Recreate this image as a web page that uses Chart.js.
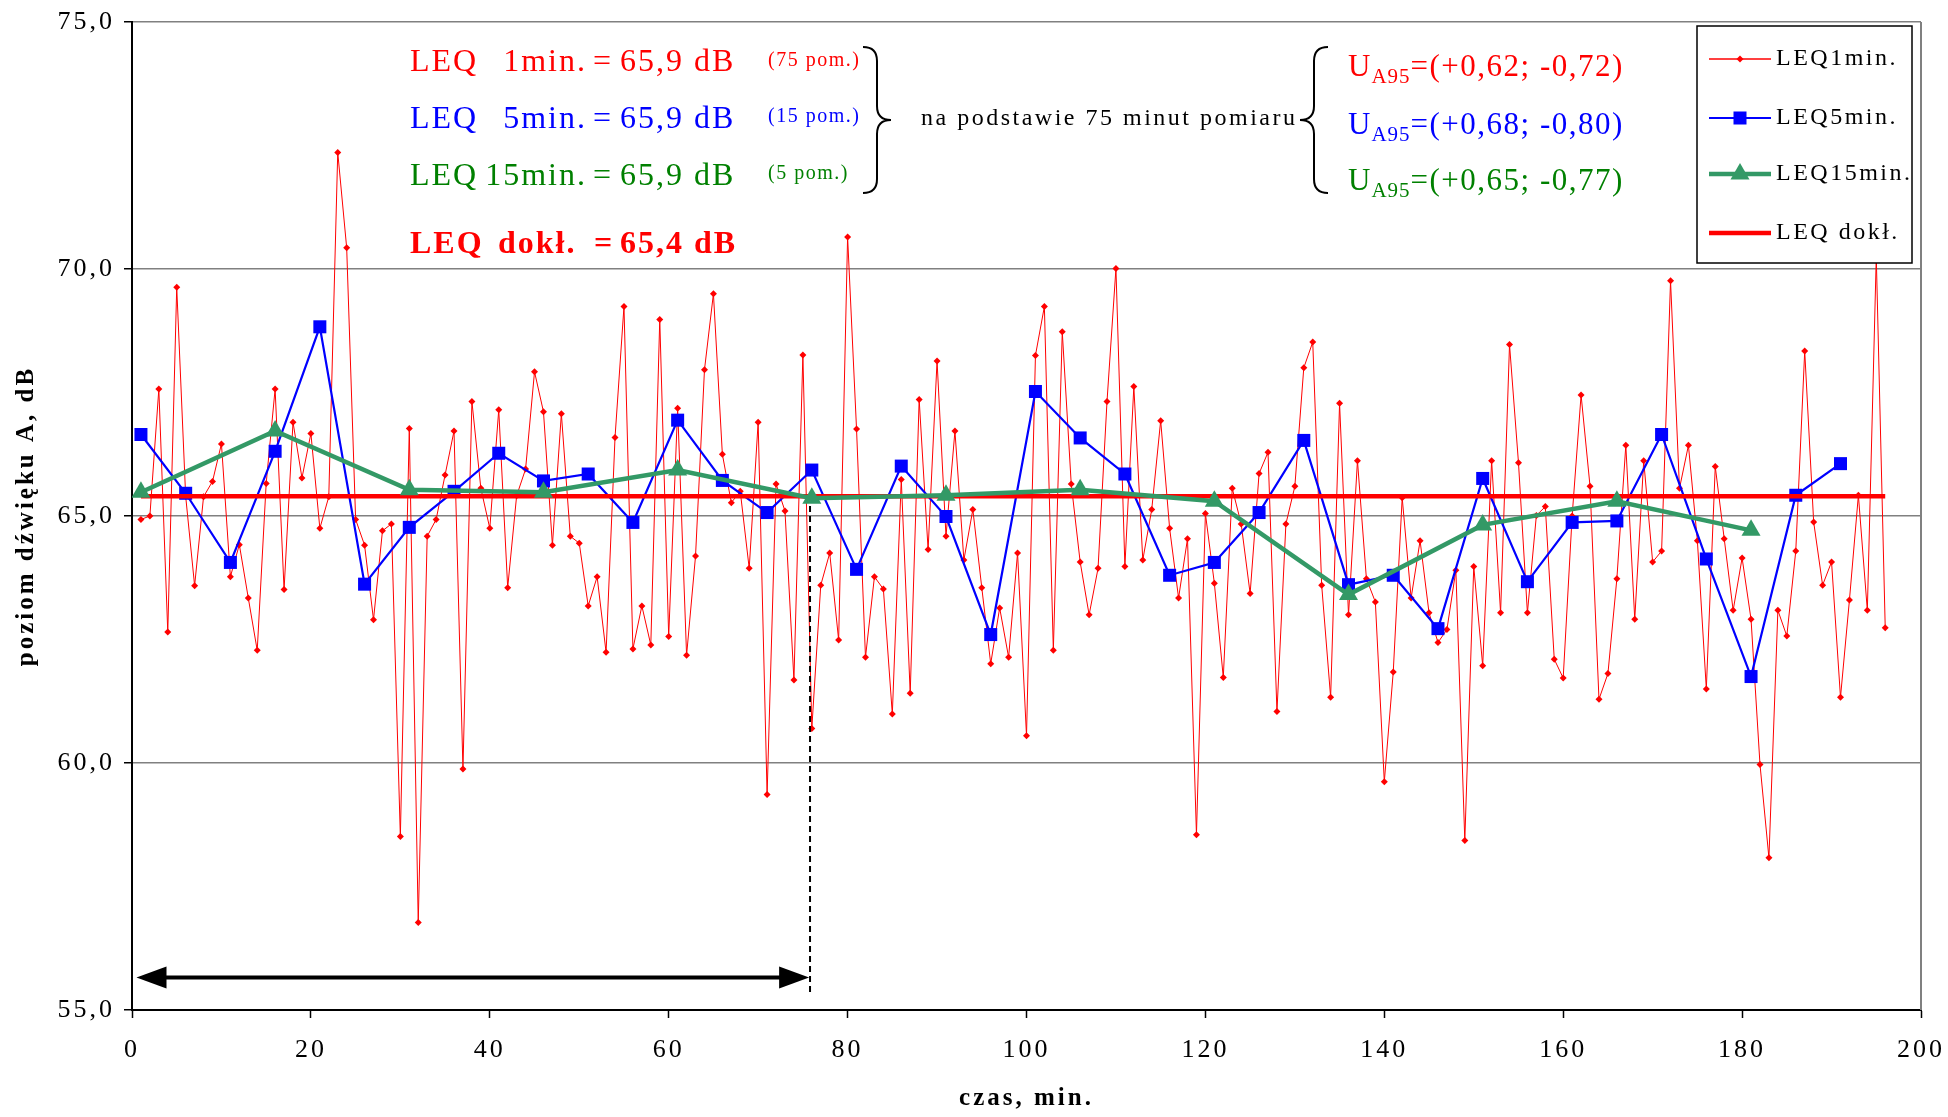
<!DOCTYPE html>
<html>
<head>
<meta charset="utf-8">
<script src="https://cdn.jsdelivr.net/npm/chart.js@4/dist/chart.umd.min.js"></script>
<style>
html, body { margin: 0; padding: 0; background: #fff; }
</style>
</head>
<body>
<canvas id="myChart" width="1948" height="1117"></canvas>
<script>
// LEQ 1 min. - one reading per minute, from minute 1
const leq1min = [
  64.93, 65.0, 67.57, 62.65, 69.63, 65.4, 63.59, 65.39, 65.70, 66.46,
  63.77, 64.42, 63.34, 62.28, 65.66, 67.57, 63.51, 66.90, 65.77, 66.67,
  64.75, 65.39, 72.36, 70.43, 64.93, 64.41, 62.90, 64.70, 64.84, 58.51,
  66.77, 56.77, 64.59, 64.93, 65.83, 66.72, 59.88, 67.32, 65.56, 64.75,
  67.15, 63.55, 65.41, 65.95, 67.92, 67.11, 64.41, 67.07, 64.59, 64.45,
  63.18, 63.77, 62.24, 66.59, 69.24, 62.31, 63.18, 62.39, 68.98, 62.56,
  67.18, 62.18, 64.19, 67.96, 69.50, 66.25, 65.27, 65.50, 63.94, 66.90,
  59.36, 65.65, 65.10, 61.68, 68.26, 60.70, 63.60, 64.25, 62.49, 70.65,
  66.76, 62.14, 63.77, 63.52, 60.99, 65.74, 61.41, 67.36, 64.32, 68.14,
  64.59, 66.72, 64.11, 65.13, 63.55, 62.01, 63.14, 62.14, 64.25, 60.55,
  68.25, 69.24, 62.28, 68.73, 65.65, 64.07, 63.00, 63.94, 67.32, 70.01,
  63.98, 67.62, 64.11, 65.13, 66.93, 64.75, 63.34, 64.54, 58.55, 65.05,
  63.64, 61.73, 65.56, 64.84, 63.43, 65.86, 66.29, 61.04, 64.84, 65.60,
  68.00, 68.52, 63.60, 61.33, 67.28, 63.00, 66.12, 63.73, 63.26, 59.62,
  61.84, 65.37, 63.34, 64.50, 63.04, 62.44, 62.70, 63.90, 58.43, 63.98,
  61.97, 66.12, 63.04, 68.47, 66.08, 63.04, 65.01, 65.19, 62.10, 61.72,
  65.0, 67.45, 65.60, 61.29, 61.81, 63.73, 66.43, 62.91, 66.12, 64.07,
  64.29, 69.76, 65.56, 66.43, 64.50, 61.50, 66.00, 64.54, 63.09, 64.15,
  62.91, 59.97, 58.08, 63.09, 62.57, 64.29, 68.34, 64.88, 63.60, 64.07,
  61.33, 63.30, 65.42, 63.09, 70.25, 62.74
];
// LEQ 5 min. - minutes 1, 6, 11 ...
const leq5min = [
  66.65, 65.46, 64.06, 66.31, 68.83, 63.62, 64.77, 65.50, 66.27, 65.71,
  65.85, 64.87, 66.94, 65.72, 65.07, 65.93, 63.92, 66.01, 64.99, 62.60,
  67.52, 66.58, 65.85, 63.80, 64.06, 65.07, 66.53, 63.61, 63.80, 62.72,
  65.76, 63.67, 64.87, 64.90, 66.65, 64.13, 61.75, 65.42, 66.06
];
// LEQ 15 min. - minutes 1, 16, 31 ...
const leq15min = [
  65.48, 66.72, 65.53, 65.48, 65.93, 65.36, 65.42, 65.53, 65.30, 63.41,
  64.82, 65.30, 64.71
];
const leqDokl = 65.4;
const doklRange = [1, 196];
const firstMinute = 1;
const step1 = 1, step5 = 5, step15 = 15;

const xTicks = [0, 20, 40, 60, 80, 100, 120, 140, 160, 180, 200];
const yTicks = [55, 60, 65, 70, 75];

// annotation texts
const leqNames = ['1min.', '5min.', '15min.'];
const leqResults = ['65,9', '65,9', '65,9'];
const pomCounts = [75, 15, 5];
const leqDoklText = '65,4';
const ua95 = [['+0,62', '-0,72'], ['+0,68', '-0,80'], ['+0,65', '-0,77']];
const basisText = 'na podstawie 75 minut pomiaru';

// marker: 75 minute measuring window
const windowEnd = 75.8;
const arrowFrom = 0.5, arrowTo = 75.7, arrowY = 55.66;
const dashTop = 65.2, dashBottom = 55.35;

const RED = '#FF0000', BLUE = '#0000FF', GREEN = '#339966', TXT_GREEN = '#008000';
const SERIF = '"Liberation Serif", "Times New Roman", serif';

function toPoints(values, step) {
    return values.map((v, i) => ({ x: firstMinute + i * step, y: v }));
}

const spacing = {
    id: 'spacing',
    beforeUpdate(chart) { chart.ctx.letterSpacing = '3px'; },
    beforeDraw(chart) { chart.ctx.letterSpacing = '3px'; }
};

function txt(ctx, s, x, y, size, color, opts) {
    opts = opts || {};
    ctx.font = (opts.bold ? 'bold ' : '') + size + 'px ' + SERIF;
    ctx.fillStyle = color;
    ctx.textAlign = opts.align || 'left';
    ctx.textBaseline = 'middle';
    ctx.letterSpacing = (opts.sp == null ? 2 : opts.sp) + 'px';
    ctx.fillText(s, x, y);
    return ctx.measureText(s).width;
}

// dir 1 = '}' , dir -1 = '{'
function brace(ctx, x, y1, y2, r, dir) {
    const ym = (y1 + y2) / 2;
    ctx.beginPath();
    ctx.moveTo(x - dir * r, y1);
    ctx.quadraticCurveTo(x, y1, x, y1 + r);
    ctx.lineTo(x, ym - r);
    ctx.quadraticCurveTo(x, ym, x + dir * r, ym);
    ctx.quadraticCurveTo(x, ym, x, ym + r);
    ctx.lineTo(x, y2 - r);
    ctx.quadraticCurveTo(x, y2, x - dir * r, y2);
    ctx.stroke();
}

const frame = {
    id: 'frame',
    beforeDatasetsDraw(chart) {
        const ctx = chart.ctx, a = chart.chartArea;
        ctx.save();
        ctx.strokeStyle = '#808080';
        ctx.lineWidth = 2;
        ctx.beginPath();
        ctx.moveTo(a.right, a.top);
        ctx.lineTo(a.right, a.bottom);
        ctx.stroke();
        ctx.restore();
    }
};

const notes = {
    id: 'notes',
    afterDatasetsDraw(chart) {
        const ctx = chart.ctx;
        const xs = chart.scales.x, ys = chart.scales.y;
        ctx.save();
        // dashed end of the 75 minute window
        ctx.strokeStyle = '#000';
        ctx.lineWidth = 2;
        ctx.setLineDash([6, 4]);
        const dx = xs.getPixelForValue(windowEnd);
        ctx.beginPath();
        ctx.moveTo(dx, ys.getPixelForValue(dashTop));
        ctx.lineTo(dx, ys.getPixelForValue(dashBottom));
        ctx.stroke();
        ctx.setLineDash([]);

        // double arrow
        const ax1 = xs.getPixelForValue(arrowFrom), ax2 = xs.getPixelForValue(arrowTo);
        const ay = ys.getPixelForValue(arrowY);
        const hl = 30, hw = 11;
        ctx.lineWidth = 4;
        ctx.beginPath();
        ctx.moveTo(ax1 + hl - 2, ay);
        ctx.lineTo(ax2 - hl + 2, ay);
        ctx.stroke();
        ctx.fillStyle = '#000';
        ctx.beginPath();
        ctx.moveTo(ax1, ay); ctx.lineTo(ax1 + hl, ay - hw); ctx.lineTo(ax1 + hl, ay + hw);
        ctx.closePath(); ctx.fill();
        ctx.beginPath();
        ctx.moveTo(ax2, ay); ctx.lineTo(ax2 - hl, ay - hw); ctx.lineTo(ax2 - hl, ay + hw);
        ctx.closePath(); ctx.fill();
        ctx.restore();
    },
    afterDraw(chart) {
        const ctx = chart.ctx;
        ctx.save();
        const colors = [RED, BLUE, TXT_GREEN];
        const rowsY = [63, 120, 177];
        const countY = [61, 117, 174];
        leqNames.forEach((n, i) => {
            txt(ctx, 'LEQ', 410, rowsY[i], 32, colors[i]);
            txt(ctx, n, 587, rowsY[i], 32, colors[i], { align: 'right' });
            txt(ctx, '=', 593, rowsY[i], 32, colors[i]);
            txt(ctx, leqResults[i] + ' dB', 620, rowsY[i], 32, colors[i]);
            txt(ctx, '(' + pomCounts[i] + ' pom.)', 768, countY[i], 20, colors[i], { sp: 1.5 });
        });
        txt(ctx, 'LEQ', 410, 245, 32, RED, { bold: true });
        txt(ctx, 'dokł.', 498, 245, 32, RED, { bold: true });
        txt(ctx, '=', 594, 245, 32, RED, { bold: true });
        txt(ctx, leqDoklText + ' dB', 620, 245, 32, RED, { bold: true });

        ctx.strokeStyle = '#000';
        ctx.lineWidth = 2;
        brace(ctx, 877, 47, 193, 14, 1);
        txt(ctx, basisText, 921, 119, 24, '#000', { sp: 2.5 });
        brace(ctx, 1314, 47, 193, 14, -1);

        const uy = [68, 126, 182];
        ua95.forEach((u, i) => {
            let x = 1348;
            x += txt(ctx, 'U', x, uy[i], 31, colors[i], { sp: 1 });
            x += txt(ctx, 'A95', x, uy[i] + 9, 21, colors[i], { sp: 1 });
            txt(ctx, '=(' + u[0] + '; ' + u[1] + ')', x, uy[i], 31, colors[i], { sp: 1.5 });
        });

        // legend box
        ctx.fillStyle = '#fff';
        ctx.fillRect(1697, 26, 215, 237);
        ctx.strokeStyle = '#000';
        ctx.lineWidth = 1.5;
        ctx.strokeRect(1697, 26, 215, 237);
        const legY = [59, 118, 174, 233];
        chart.data.datasets.forEach((d, i) => {
            const y = legY[i];
            ctx.strokeStyle = d.borderColor;
            ctx.lineWidth = Math.max(d.borderWidth, 1.5);
            ctx.beginPath();
            ctx.moveTo(1709, y);
            ctx.lineTo(1771, y);
            ctx.stroke();
            if (d.pointRadius > 0) {
                ctx.fillStyle = d.pointBackgroundColor;
                const r = d.pointRadius;
                ctx.beginPath();
                if (d.pointStyle === 'rect') {
                    const s = r * Math.SQRT1_2;
                    ctx.rect(1740 - s, y - s, 2 * s, 2 * s);
                } else if (d.pointStyle === 'triangle') {
                    ctx.moveTo(1740, y - r);
                    ctx.lineTo(1740 + r * 0.866, y + r * 0.5);
                    ctx.lineTo(1740 - r * 0.866, y + r * 0.5);
                } else {
                    ctx.moveTo(1740, y - r); ctx.lineTo(1740 + r, y);
                    ctx.lineTo(1740, y + r); ctx.lineTo(1740 - r, y);
                }
                ctx.closePath();
                ctx.fill();
            }
            txt(ctx, d.label, 1776, y, 24, '#000', { sp: 2.5 });
        });
        ctx.restore();
    }
};

new Chart('myChart', {
    type: 'line',
    data: {
        datasets: [
            {
                label: 'LEQ1min.',
                data: toPoints(leq1min, step1),
                borderColor: RED,
                borderWidth: 1,
                pointStyle: 'rectRot',
                pointRadius: 3.5,
                pointBackgroundColor: RED,
                pointBorderColor: RED,
                pointBorderWidth: 0,
                order: 4
            },
            {
                label: 'LEQ5min.',
                data: toPoints(leq5min, step5),
                borderColor: BLUE,
                borderWidth: 2.2,
                pointStyle: 'rect',
                pointRadius: 9.2,
                pointBackgroundColor: BLUE,
                pointBorderColor: BLUE,
                pointBorderWidth: 0,
                order: 3
            },
            {
                label: 'LEQ15min.',
                data: toPoints(leq15min, step15),
                borderColor: GREEN,
                borderWidth: 4.5,
                pointStyle: 'triangle',
                pointRadius: 11,
                pointBackgroundColor: GREEN,
                pointBorderColor: GREEN,
                pointBorderWidth: 0,
                order: 1
            },
            {
                label: 'LEQ dokł.',
                data: doklRange.map(m => ({ x: m, y: leqDokl })),
                borderColor: RED,
                borderWidth: 4.5,
                pointRadius: 0,
                order: 2
            }
        ]
    },
    options: {
        responsive: false,
        animation: false,
        events: [],
        layout: { padding: { top: 22, right: 27, left: 0, bottom: 0 } },
        plugins: { legend: { display: false }, tooltip: { enabled: false } },
        scales: {
            x: {
                type: 'linear',
                min: 0,
                max: 200,
                afterFit(scale) {
                    scale.height = 107;
                    scale.paddingLeft = 0;
                    scale.paddingRight = 0;
                },
                afterBuildTicks(scale) { scale.ticks = xTicks.map(v => ({ value: v })); },
                grid: { drawOnChartArea: false, drawTicks: true, tickLength: 8, tickColor: '#000', tickWidth: 1.5 },
                border: { display: true, color: '#000', width: 2 },
                ticks: { color: '#000', padding: 17, maxRotation: 0, font: { family: SERIF, size: 26 } },
                title: {
                    display: true, text: 'czas, min.', color: '#000',
                    padding: { top: 0, bottom: 3 },
                    font: { family: SERIF, size: 25, weight: 'bold' }
                }
            },
            y: {
                min: 55,
                max: 75,
                afterFit(scale) {
                    scale.width = 132;
                    scale.paddingTop = 0;
                    scale.paddingBottom = 0;
                },
                afterBuildTicks(scale) { scale.ticks = yTicks.map(v => ({ value: v })); },
                grid: { color: '#808080', lineWidth: 1.5, drawTicks: true, tickLength: 8, tickColor: '#000', tickWidth: 1.5 },
                border: { display: true, color: '#000', width: 2 },
                ticks: {
                    color: '#000', padding: 9,
                    font: { family: SERIF, size: 26 },
                    callback: v => v.toFixed(1).replace('.', ',')
                },
                title: {
                    display: true, text: 'poziom dźwięku A, dB', color: '#000',
                    padding: { top: 12, bottom: 0 },
                    font: { family: SERIF, size: 25, weight: 'bold' }
                }
            }
        }
    },
    plugins: [spacing, frame, notes]
});
</script>
</body>
</html>
